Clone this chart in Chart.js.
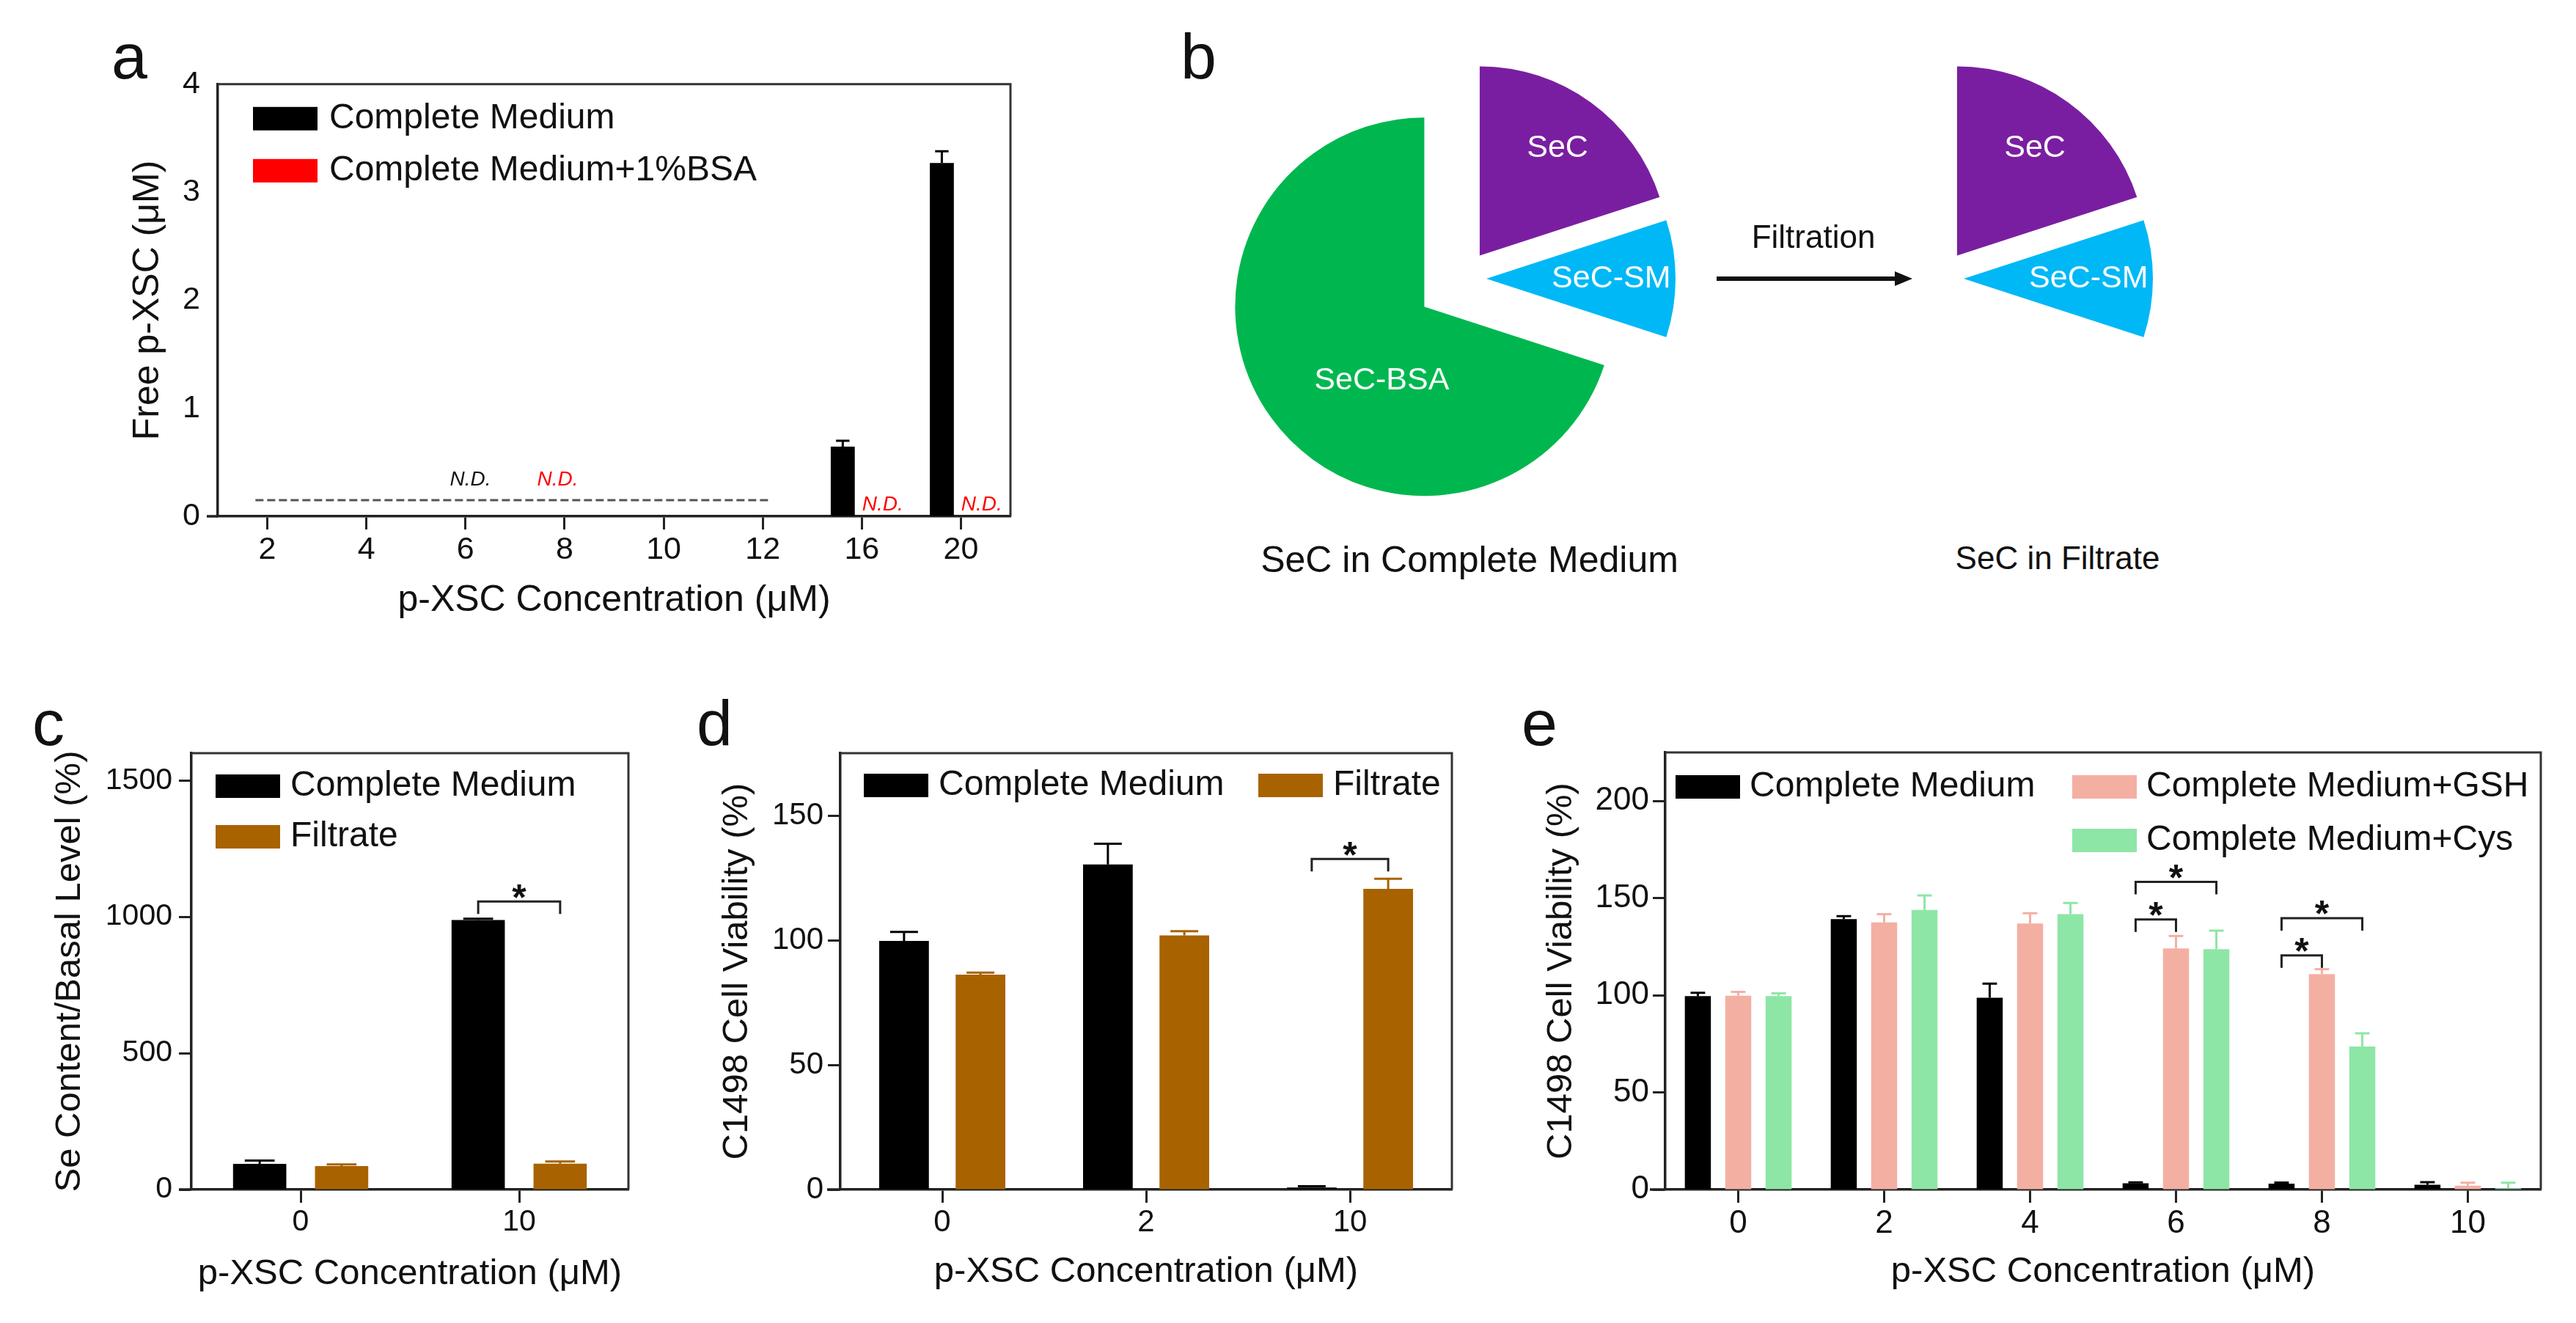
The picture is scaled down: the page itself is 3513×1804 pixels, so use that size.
<!DOCTYPE html>
<html>
<head>
<meta charset="utf-8">
<script src="https://cdn.jsdelivr.net/npm/chart.js@4.4.1/dist/chart.umd.min.js"></script>
<style>
  body { margin: 0; background: #fff; width: 3513px; height: 1804px; position: relative; overflow: hidden;
         font-family: "Liberation Sans", Arial, sans-serif; }
  .box { position: absolute; }
  .lbl { position: absolute; white-space: nowrap; color: #111; line-height: 1; }
</style>
</head>
<body>
<div class="box" id="pa"><canvas></canvas></div>
<div class="box" id="pb1"><canvas></canvas></div>
<div class="box" id="pb2"><canvas></canvas></div>
<div class="box" id="pc"><canvas></canvas></div>
<div class="box" id="pd"><canvas></canvas></div>
<div class="box" id="pe"><canvas></canvas></div>
<svg style="position:absolute;left:2330px;top:360px" width="300" height="40">
  <line x1="11" y1="20" x2="262" y2="20" stroke="#111" stroke-width="6"/>
  <polygon points="278,20 254,10 254,30" fill="#111"/>
</svg>
<script>
// ---- data: panel a (free p-XSC) ----
const catsA = ['2', '4', '6', '8', '10', '12', '16', '20'];
const cmA = [null, null, null, null, null, null, 0.645, 3.27];
const cmAErr = [0, 0, 0, 0, 0, 0, 0.055, 0.11];
const bsaA = [null, null, null, null, null, null, null, null]; // all N.D.
const bsaAErr = [0, 0, 0, 0, 0, 0, 0, 0];
const ticksA = [0, 1, 2, 3, 4];
const limitA = 0.15;          // detection limit (dashed)
const limitRangeA = [-0.12, 5.07];
const ndA = [
  { x: 2.05, y: 0.34, color: '#111' },
  { x: 2.93, y: 0.34, color: '#ff0000' },
  { x: 6.21, y: 0.11, color: '#ff0000' },
  { x: 7.21, y: 0.11, color: '#ff0000' }
];

// ---- data: panel b (pies) ----
const pieLabels = ['SeC', 'SeC-SM', 'SeC-BSA'];
const pieMedium = [20, 10, 70];
const pieFiltrate = [20, 10, 70]; // SeC-BSA slice removed by filtration (not drawn)

// ---- data: panel c ----
const catsC = ['0', '10'];
const cmC = [94, 988];
const cmCErr = [12, 5];
const filC = [86, 95];
const filCErr = [6, 8];
const ticksC = [0, 500, 1000, 1500];
const sigC = [{ cat: 1, from: 0, to: 1, y: 1056 }];

// ---- data: panel d ----
const catsD = ['0', '2', '10'];
const cmD = [99.7, 130.4, 0.8];
const cmDErr = [3.6, 8.3, 0.5];
const filD = [86.2, 101.9, 120.6];
const filDErr = [0.8, 1.7, 4.0];
const ticksD = [0, 50, 100, 150];
const sigD = [{ cat: 2, from: 0, to: 1, y: 132.6 }];

// ---- data: panel e ----
const catsE = ['0', '2', '4', '6', '8', '10'];
const cmE = [99.6, 139.2, 98.7, 3.2, 3.0, 2.5];
const cmEErr = [1.7, 1.5, 7.3, 0.5, 0.6, 1.3];
const gshE = [99.8, 137.5, 136.9, 124.1, 110.9, 2.0];
const gshEErr = [1.9, 4.3, 5.3, 6.4, 2.5, 1.5];
const cysE = [99.6, 143.9, 141.8, 123.7, 73.6, 0.7];
const cysEErr = [1.4, 7.5, 5.7, 9.6, 6.8, 2.8];
const ticksE = [0, 50, 100, 150, 200];
const sigE = [
  { cat: 3, from: 0, to: 1, y: 139 },
  { cat: 3, from: 0, to: 2, y: 158.4 },
  { cat: 4, from: 0, to: 1, y: 120.5 },
  { cat: 4, from: 0, to: 2, y: 139.7 }
];

// ---- styles ----
const FONT = '"Liberation Sans", Arial, sans-serif';
const AXIS = '#222';
const BLACK = '#000000', RED = '#ff0000', ORANGE = '#a86300', PINK = '#f4afa3', LGREEN = '#8ee6a6';
const PURPLE = '#7a1ea1', BLUE = '#00b8f6', GREEN = '#00b74f';
const PAD_T = 40, PAD_R = 20;
const XTITLE = 'p-XSC Concentration (μM)';

Chart.defaults.font.family = FONT;
Chart.defaults.color = '#111';
Chart.defaults.animation = false;

function place(el, g) {
  el.style.left = (g.l - g.wy) + 'px';
  el.style.top = (g.t - PAD_T) + 'px';
  el.style.width = (g.wy + g.r - g.l + PAD_R) + 'px';
  el.style.height = (PAD_T + g.b - g.t + g.hx) + 'px';
}

// frame, error bars, brackets, legend, extras
function decor(o) {
  return {
    id: 'decor',
    afterDatasetsDraw(chart) {
      const { ctx, chartArea: ca, scales: { x, y } } = chart;
      ctx.save();
      ctx.strokeStyle = '#333';
      ctx.lineWidth = 3;
      ctx.beginPath();
      ctx.moveTo(ca.left, ca.top); ctx.lineTo(ca.right, ca.top); ctx.lineTo(ca.right, ca.bottom);
      ctx.stroke();
      ctx.strokeStyle = AXIS;
      ctx.lineWidth = 3.5;
      ctx.beginPath();
      ctx.moveTo(ca.left - o.stub, ca.bottom); ctx.lineTo(ca.left, ca.bottom);
      ctx.stroke();

      // error bars (upper only)
      o.sets.forEach((s, di) => {
        const meta = chart.getDatasetMeta(di);
        meta.data.forEach((bar, i) => {
          const v = s.data[i];
          if (v == null || !s.err[i]) return;
          const top = y.getPixelForValue(v + s.err[i]);
          const half = bar.width * 0.28;
          ctx.strokeStyle = s.color;
          ctx.lineWidth = 3;
          ctx.beginPath();
          ctx.moveTo(bar.x, bar.y); ctx.lineTo(bar.x, top);
          ctx.moveTo(bar.x - half, top); ctx.lineTo(bar.x + half, top);
          ctx.stroke();
        });
      });

      // significance brackets
      (o.sig || []).forEach(b => {
        const x1 = chart.getDatasetMeta(b.from).data[b.cat].x;
        const x2 = chart.getDatasetMeta(b.to).data[b.cat].x;
        const yy = y.getPixelForValue(b.y);
        ctx.strokeStyle = '#222';
        ctx.lineWidth = 3;
        ctx.beginPath();
        ctx.moveTo(x1, yy + 17); ctx.lineTo(x1, yy); ctx.lineTo(x2, yy); ctx.lineTo(x2, yy + 17);
        ctx.stroke();
        ctx.font = 'bold 50px ' + FONT;
        ctx.fillStyle = '#111';
        ctx.textAlign = 'center';
        ctx.textBaseline = 'alphabetic';
        const m = ctx.measureText('*');
        const cy = yy - 14;
        ctx.fillText('*', (x1 + x2) / 2, cy - (m.actualBoundingBoxDescent - m.actualBoundingBoxAscent) / 2);
      });

      // legend inside the plot
      ctx.font = '48px ' + FONT;
      ctx.textAlign = 'left';
      ctx.textBaseline = 'middle';
      o.legend.forEach(it => {
        const s = o.sets[it.ds];
        const bx = ca.left + it.x, by = ca.top + it.y;
        ctx.fillStyle = s.color;
        ctx.fillRect(bx, by - 16, 88, 32);
        ctx.fillStyle = '#111';
        ctx.fillText(s.label, bx + 88 + o.legendGap, by);
      });

      if (o.extra) o.extra(chart, ctx);
      ctx.restore();
    }
  };
}

function makeBar(id, g, o) {
  const holder = document.getElementById(id);
  place(holder, g);
  return new Chart(holder.querySelector('canvas'), {
    type: 'bar',
    data: {
      labels: o.cats,
      datasets: o.sets.map(s => ({
        label: s.label, data: s.data, backgroundColor: s.color, borderWidth: 0,
        categoryPercentage: o.catPct, barPercentage: o.barPct
      }))
    },
    options: {
      responsive: true, maintainAspectRatio: false, events: [],
      layout: { padding: { top: PAD_T, right: PAD_R, left: 0, bottom: 0 } },
      plugins: { legend: { display: false }, tooltip: { enabled: false } },
      scales: {
        x: {
          offset: true,
          grid: { offset: false, drawOnChartArea: false, drawTicks: true, tickLength: 18, tickWidth: 3, tickColor: AXIS },
          border: { color: AXIS, width: 3.5 },
          ticks: { font: { size: o.tickSize }, padding: 2, maxRotation: 0, autoSkip: false, color: '#111' },
          title: { display: true, text: XTITLE, font: { size: o.titleSize }, padding: 0, color: '#111' },
          afterFit: s => { s.height = g.hx; }
        },
        y: {
          min: 0, max: o.yMax,
          afterBuildTicks: s => { s.ticks = o.yTicks.map(v => ({ value: v })); },
          grid: { drawOnChartArea: false, drawTicks: o.yMarks, tickLength: 17, tickWidth: 3, tickColor: AXIS },
          border: { color: AXIS, width: 3.5 },
          ticks: { font: { size: o.tickSize }, padding: o.yPad, color: '#111', callback: v => String(v) },
          title: { display: true, text: o.yTitle, font: { size: o.titleSize }, padding: 0, color: '#111' },
          afterFit: s => { s.width = g.wy; }
        }
      }
    },
    plugins: [decor(o)]
  });
}

// panel a
makeBar('pa', { l: 297, t: 105, r: 1378, b: 704, wy: 125, hx: 145 }, {
  cats: catsA,
  sets: [
    { label: 'Complete Medium', data: cmA, err: cmAErr, color: BLACK },
    { label: 'Complete Medium+1%BSA', data: bsaA, err: bsaAErr, color: RED }
  ],
  catPct: 0.77, barPct: 0.63, yMax: 4, yTicks: ticksA, yMarks: false, yPad: 24,
  tickSize: 43, titleSize: 50, yTitle: 'Free p-XSC (μM)', stub: 15,
  legend: [{ ds: 0, x: 48, y: 47 }, { ds: 1, x: 48, y: 118 }], legendGap: 16,
  extra(chart, ctx) {
    const { x, y } = chart.scales;
    ctx.strokeStyle = '#555';
    ctx.lineWidth = 3;
    ctx.setLineDash([11, 5]);
    ctx.beginPath();
    ctx.moveTo(x.getPixelForValue(limitRangeA[0]), y.getPixelForValue(limitA));
    ctx.lineTo(x.getPixelForValue(limitRangeA[1]), y.getPixelForValue(limitA));
    ctx.stroke();
    ctx.setLineDash([]);
    ctx.font = 'italic 28px ' + FONT;
    ctx.textAlign = 'center';
    ctx.textBaseline = 'middle';
    ndA.forEach(n => {
      ctx.fillStyle = n.color;
      ctx.fillText('N.D.', x.getPixelForValue(n.x), y.getPixelForValue(n.y));
    });
  }
});

// panel c
makeBar('pc', { l: 261, t: 1027, r: 857, b: 1622, wy: 195, hx: 145 }, {
  cats: catsC,
  sets: [
    { label: 'Complete Medium', data: cmC, err: cmCErr, color: BLACK },
    { label: 'Filtrate', data: filC, err: filCErr, color: ORANGE }
  ],
  catPct: 0.75, barPct: 0.65, yMax: 1600, yTicks: ticksC, yMarks: true, yPad: 9,
  tickSize: 41, titleSize: 49, yTitle: 'Se Content/Basal Level (%)', stub: 17,
  sig: sigC,
  legend: [{ ds: 0, x: 33, y: 45 }, { ds: 1, x: 33, y: 114 }], legendGap: 14
});

// panel d
makeBar('pd', { l: 1146, t: 1027, r: 1980, b: 1622, wy: 170, hx: 142 }, {
  cats: catsD,
  sets: [
    { label: 'Complete Medium', data: cmD, err: cmDErr, color: BLACK },
    { label: 'Filtrate', data: filD, err: filDErr, color: ORANGE }
  ],
  catPct: 0.75, barPct: 0.65, yMax: 175, yTicks: ticksD, yMarks: true, yPad: 6,
  tickSize: 42, titleSize: 49, yTitle: 'C1498 Cell Viability (%)', stub: 18,
  sig: sigD,
  legend: [{ ds: 0, x: 32, y: 44 }, { ds: 1, x: 570, y: 44 }], legendGap: 14
});

// panel e
makeBar('pe', { l: 2271, t: 1026, r: 3465, b: 1622, wy: 171, hx: 142 }, {
  cats: catsE,
  sets: [
    { label: 'Complete Medium', data: cmE, err: cmEErr, color: BLACK },
    { label: 'Complete Medium+GSH', data: gshE, err: gshEErr, color: PINK },
    { label: 'Complete Medium+Cys', data: cysE, err: cysEErr, color: LGREEN }
  ],
  catPct: 0.83, barPct: 0.645, yMax: 225, yTicks: ticksE, yMarks: true, yPad: 5,
  tickSize: 44, titleSize: 49, yTitle: 'C1498 Cell Viability (%)', stub: 21,
  sig: sigE,
  legend: [{ ds: 0, x: 14, y: 47 }, { ds: 1, x: 555, y: 47 }, { ds: 2, x: 555, y: 120 }], legendGap: 13
});

// panel b: exploded pies
const explode = [39, 32, 65];
const pieText = [{ f: 0.70, da: 0 }, { f: 0.66, da: 0 }, { f: 0.45, da: -24 }];

function makePie(id, cx, cy, data, colors) {
  const holder = document.getElementById(id);
  holder.style.left = (cx - 350) + 'px';
  holder.style.top = (cy - 350) + 'px';
  holder.style.width = '700px';
  holder.style.height = '700px';
  return new Chart(holder.querySelector('canvas'), {
    type: 'pie',
    data: { labels: pieLabels, datasets: [{ data: data, backgroundColor: colors, borderWidth: 0 }] },
    options: {
      responsive: true, maintainAspectRatio: false, events: [], radius: 258,
      plugins: { legend: { display: false }, tooltip: { enabled: false } }
    },
    plugins: [{
      id: 'explode',
      afterDatasetsUpdate(chart) {
        chart.getDatasetMeta(0).data.forEach((arc, i) => {
          const mid = (arc.startAngle + arc.endAngle) / 2;
          arc.x += Math.cos(mid) * explode[i];
          arc.y += Math.sin(mid) * explode[i];
        });
      },
      afterDatasetsDraw(chart) {
        const ctx = chart.ctx;
        ctx.save();
        ctx.fillStyle = '#fff';
        ctx.font = '43px ' + FONT;
        ctx.textAlign = 'center';
        ctx.textBaseline = 'middle';
        chart.getDatasetMeta(0).data.forEach((arc, i) => {
          if (colors[i] === 'rgba(0,0,0,0)') return;
          const a = (arc.startAngle + arc.endAngle) / 2 + pieText[i].da * Math.PI / 180;
          const r = pieText[i].f * arc.outerRadius;
          ctx.fillText(pieLabels[i], arc.x + Math.cos(a) * r, arc.y + Math.sin(a) * r);
        });
        ctx.restore();
      }
    }]
  });
}
makePie('pb1', 1995, 380, pieMedium, [PURPLE, BLUE, GREEN]);
makePie('pb2', 2646, 380, pieFiltrate, [PURPLE, BLUE, 'rgba(0,0,0,0)']);

// free text
function addText(txt, x, baseline, size, center) {
  const d = document.createElement('div');
  d.className = 'lbl';
  d.textContent = txt;
  d.style.fontSize = size + 'px';
  d.style.top = (baseline - 0.8465 * size) + 'px';
  d.style.left = x + 'px';
  if (center) d.style.transform = 'translateX(-50%)';
  document.body.appendChild(d);
}
addText('a', 152, 107, 88);
addText('b', 1610, 107, 88);
addText('c', 44, 1016, 88);
addText('d', 950, 1016, 88);
addText('e', 2075, 1016, 88);
addText('Filtration', 2473, 338, 44, true);
addText('SeC in Complete Medium', 2004, 780, 50, true);
addText('SeC in Filtrate', 2806, 776, 44, true);
</script>
</body>
</html>
